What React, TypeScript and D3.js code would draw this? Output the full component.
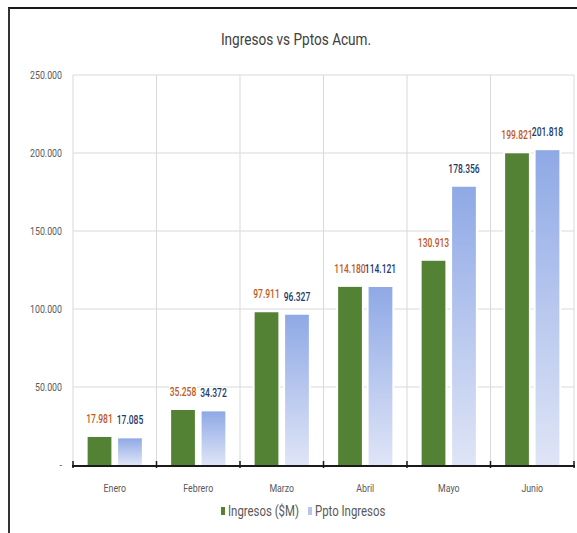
import { useMemo } from "react";
import type { ReactNode } from "react";
import * as d3 from "d3";

const W = 577;
const H = 533;
const PAD = { top: 75, right: 3, bottom: 68, left: 73 };

const months = ["Enero", "Febrero", "Marzo", "Abril", "Mayo", "Junio"];
const ingresos = [17981, 35258, 97911, 114180, 130913, 199821];
const ppto = [17085, 34372, 96327, 114121, 178356, 201818];
const yTicks = [0, 50000, 100000, 150000, 200000, 250000];
const seriesKeys = ["ingresos", "ppto"];
const seriesNames = ["Ingresos ($M)", "Ppto Ingresos"];

const FONT = "Roboto, 'Liberation Sans', sans-serif";
const GREEN = "#548235";
const LABEL_COLORS = ["#c0591e", "#223a6b"];

const fmt = d3.formatLocale({
  thousands: ".",
  grouping: [3],
  decimal: ",",
  currency: ["$", ""],
}).format(",d");

// the reference uses a condensed face, so squeeze text horizontally
function NText({
  x,
  y,
  sx,
  children,
  ...rest
}: {
  x: number;
  y: number;
  sx: number;
  children: ReactNode;
  [k: string]: any;
}) {
  return (
    <text transform={`translate(${x},${y}) scale(${sx},1)`} {...rest}>
      {children}
    </text>
  );
}

export default function App() {
  const x0 = useMemo(
    () =>
      d3
        .scaleBand()
        .domain(months)
        .range([PAD.left, W - PAD.right])
        .padding(0),
    [],
  );
  const x1 = useMemo(
    () =>
      d3
        .scaleBand()
        .domain(seriesKeys)
        .range([0, x0.bandwidth()])
        .paddingInner(0.22)
        .paddingOuter(0.48),
    [x0],
  );
  const y = useMemo(
    () =>
      d3
        .scaleLinear()
        .domain([0, 250000])
        .range([H - PAD.bottom, PAD.top]),
    [],
  );

  const rows = months.map((m, i) => ({ m, vals: [ingresos[i], ppto[i]] }));
  const bounds = [PAD.left, ...months.map((m) => x0(m)! + x0.bandwidth())];
  const baseY = y(0);

  return (
    <svg
      width={W}
      height={H}
      style={{ position: "absolute", left: 0, top: 0, background: "#fff" }}
      fontFamily={FONT}
    >
      <defs>
        <linearGradient id="bluegrad" x1="0" y1="0" x2="0" y2="1">
          <stop offset="0" stopColor="#8fa9e6" />
          <stop offset="1" stopColor="#dfe5f6" />
        </linearGradient>
      </defs>

      {/* outer frame */}
      <line x1={8} x2={W} y1={8} y2={8} stroke="#1a1a1a" strokeWidth={2} />
      <line x1={9} x2={9} y1={8} y2={H} stroke="#333" strokeWidth={2} />

      <NText x={296} y={45} sx={0.8} textAnchor="middle" fontSize={17} fill="#404040">
        Ingresos vs Pptos Acum.
      </NText>

      {/* grid */}
      {yTicks.slice(1).map((t) => (
        <line
          key={t}
          x1={PAD.left}
          x2={W - PAD.right}
          y1={y(t)}
          y2={y(t)}
          stroke="#d9d9d9"
          strokeWidth={1}
        />
      ))}
      {bounds.map((bx, i) => (
        <line
          key={i}
          x1={bx}
          x2={bx}
          y1={PAD.top}
          y2={baseY}
          stroke="#d9d9d9"
          strokeWidth={1}
        />
      ))}

      {/* y labels */}
      {yTicks.map((t) => (
        <NText
          key={t}
          x={62}
          y={y(t)}
          sx={0.8}
          dy="0.35em"
          textAnchor="end"
          fontSize={11}
          fill="#595959"
        >
          {t === 0 ? "-" : fmt(t)}
        </NText>
      ))}

      {/* bars with white halo */}
      {rows.map((r) =>
        r.vals.map((v, j) => {
          const bx = x0(r.m)! + x1(seriesKeys[j])!;
          const by = y(v);
          return (
            <rect
              key={r.m + j}
              x={bx}
              y={by}
              width={x1.bandwidth()}
              height={baseY - by}
              fill="#fff"
              stroke="#fff"
              strokeWidth={4}
            />
          );
        }),
      )}
      {rows.map((r) =>
        r.vals.map((v, j) => {
          const bx = x0(r.m)! + x1(seriesKeys[j])!;
          const by = y(v);
          return (
            <rect
              key={"f" + r.m + j}
              x={bx}
              y={by}
              width={x1.bandwidth()}
              height={baseY - by}
              fill={j === 0 ? GREEN : "url(#bluegrad)"}
            />
          );
        }),
      )}

      {/* value labels */}
      {rows.map((r) =>
        r.vals.map((v, j) => {
          const cx = x0(r.m)! + x1(seriesKeys[j])! + x1.bandwidth() / 2;
          const ty = y(v) - 14;
          return (
            <g key={"l" + r.m + j}>
              <rect x={cx - 14} y={ty - 10} width={28} height={13} fill="#fff" />
              <NText
                x={cx}
                y={ty}
                sx={0.71}
                textAnchor="middle"
                fontSize={12}
                fontWeight={500}
                fill={LABEL_COLORS[j]}
              >
                {fmt(v)}
              </NText>
            </g>
          );
        }),
      )}

      {/* x axis */}
      <line
        x1={PAD.left - 1}
        x2={W - PAD.right + 1}
        y1={baseY + 1}
        y2={baseY + 1}
        stroke="#1a1a1a"
        strokeWidth={2}
      />
      {bounds.map((bx, i) => (
        <line
          key={"t" + i}
          x1={bx}
          x2={bx}
          y1={baseY - 4}
          y2={baseY + 3}
          stroke="#1a1a1a"
          strokeWidth={1.5}
        />
      ))}
      {months.map((m) => (
        <NText
          key={m}
          x={x0(m)! + x0.bandwidth() / 2}
          y={488}
          sx={0.8}
          dy="0.35em"
          textAnchor="middle"
          fontSize={11}
          fill="#595959"
        >
          {m}
        </NText>
      ))}

      {/* legend */}
      {seriesNames.map((n, i) => {
        const lx = i === 0 ? 221 : 308;
        return (
          <g key={n} transform={`translate(${lx},511)`}>
            <rect
              x={0}
              y={-4}
              width={4}
              height={8}
              fill={i === 0 ? GREEN : "#b4c6ee"}
            />
            <NText x={7} y={0} sx={0.76} dy="0.35em" fontSize={15} fill="#595959">
              {n}
            </NText>
          </g>
        );
      })}
    </svg>
  );
}
